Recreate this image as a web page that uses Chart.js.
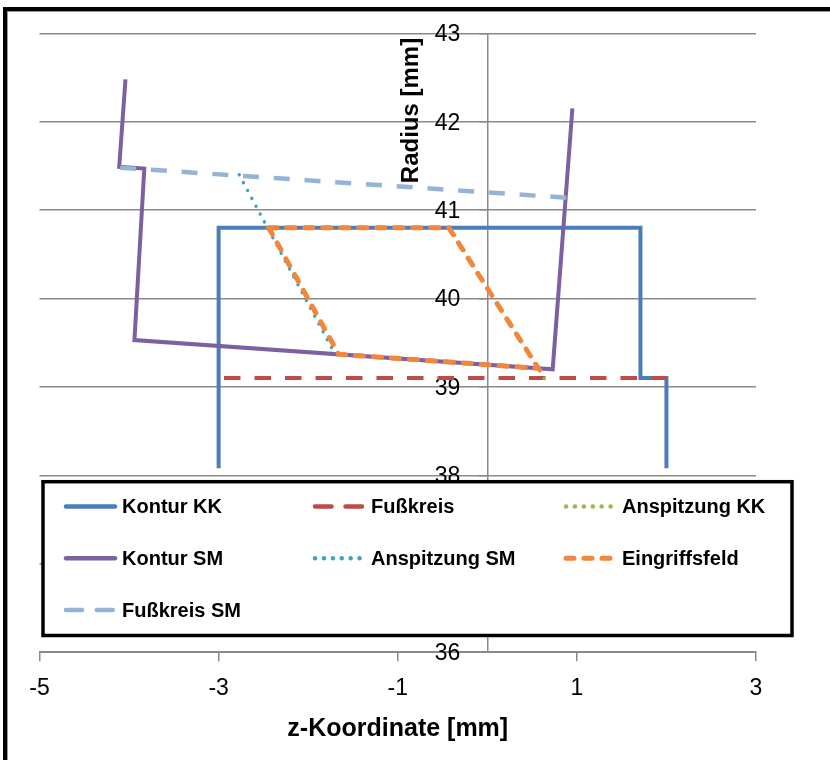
<!DOCTYPE html>
<html>
<head>
<meta charset="utf-8">
<script src="https://cdn.jsdelivr.net/npm/chart.js@4.4.1/dist/chart.umd.min.js"></script>
<style>
  html, body { margin: 0; padding: 0; background: #fff; overflow: hidden; }
  #wrap { position: relative; width: 830px; height: 760px; overflow: hidden; }
  #frame { position: absolute; left: 3px; top: 7px; width: 900px; height: 800px;
           border: 4px solid #000; box-shadow: inset 1px 1px 0 #9a9a9a; }
  canvas { position: absolute; left: 0; top: 0; }
</style>
</head>
<body>
<div id="wrap">
  <div id="frame"></div>
  <canvas id="c" width="830" height="760"></canvas>
</div>
<script>
// ---- data ----
const seriesNames = ['Kontur KK', 'Fußkreis', 'Anspitzung KK', 'Kontur SM', 'Anspitzung SM', 'Eingriffsfeld', 'Fußkreis SM'];

const konturKK_x = [-3.0, -3.0, 1.71, 1.71, 2.0, 2.0];
const konturKK_y = [38.08, 40.8, 40.8, 39.1, 39.1, 38.08];

const fusskreis_x = [-2.94, 2.0];
const fusskreis_y = [39.1, 39.1];

const anspitzungKK_x = [-0.42, 0.64];
const anspitzungKK_y = [40.8, 39.09];

const konturSM_x = [-4.04, -4.11, -3.83, -3.94, 0.73, 0.95];
const konturSM_y = [42.48, 41.49, 41.47, 39.53, 39.2, 42.15];

const anspitzungSM_x = [-2.77, -1.70];
const anspitzungSM_y = [41.40, 39.37];

const eingriffsfeld_x = [-2.44, -0.43, 0.57, -1.66, -2.44];
const eingriffsfeld_y = [40.8, 40.8, 39.21, 39.37, 40.8];

const fusskreisSM_x = [-4.10, 0.89];
const fusskreisSM_y = [41.48, 41.14];

const xTicks = [-5, -3, -1, 1, 3];
const yTicks = [36, 37, 38, 39, 40, 41, 42, 43];

const xTitle = 'z-Koordinate [mm]';
const yTitle = 'Radius [mm]';

// ---- build ----
function pts(xs, ys) { return xs.map((x, i) => ({ x: x, y: ys[i] })); }

const styles = [
  { color: '#4A7EBB', width: 4, dash: [], cap: 'butt' },
  { color: '#BE4B48', width: 4, dash: [16.5, 14], cap: 'butt' },
  { color: '#98B954', width: 3.4, dash: [0.1, 8.8], cap: 'round' },
  { color: '#7D60A0', width: 4, dash: [], cap: 'butt' },
  { color: '#3FA3C0', width: 3.4, dash: [0.1, 8.8], cap: 'round' },
  { color: '#F0873C', width: 5, dash: [8, 10], cap: 'round' },
  { color: '#95B3D7', width: 4.5, dash: [16, 14.8], cap: 'butt' }
];
const xs = [konturKK_x, fusskreis_x, anspitzungKK_x, konturSM_x, anspitzungSM_x, eingriffsfeld_x, fusskreisSM_x];
const ys = [konturKK_y, fusskreis_y, anspitzungKK_y, konturSM_y, anspitzungSM_y, eingriffsfeld_y, fusskreisSM_y];

const datasets = seriesNames.map((name, i) => ({
  label: name,
  data: pts(xs[i], ys[i]),
  showLine: true,
  borderColor: styles[i].color,
  backgroundColor: styles[i].color,
  borderWidth: styles[i].width,
  borderDash: styles[i].dash,
  borderCapStyle: styles[i].cap,
  borderJoinStyle: 'miter',
  pointRadius: 0,
  pointHoverRadius: 0,
  tension: 0,
  fill: false,
  order: seriesNames.length - i
}));

const FONT = '"Liberation Sans", Arial, sans-serif';

const overlayPlugin = {
  id: 'overlay',
  beforeDraw(chart) {
    // move y tick labels left of the crossing axis (tick + padding)
    const s = chart.scales.y;
    const items = s.getLabelItems(chart.chartArea);
    if (!items._shifted) {
      items.forEach(it => { it.options.translation[0] -= 27; it.options.translation[1] += 1.5; });
      items._shifted = true;
    }
  },
  afterDraw(chart) {
    const ctx = chart.ctx;
    // y-axis title (reads bottom to top, placed near the top)
    ctx.save();
    ctx.translate(411, 110.5);
    ctx.rotate(-Math.PI / 2);
    ctx.font = 'bold 24px ' + FONT;
    ctx.fillStyle = '#000';
    ctx.textAlign = 'center';
    ctx.textBaseline = 'middle';
    ctx.fillText(yTitle, 0, 0);
    ctx.restore();

    // legend box over the plot
    const bx = 43, by = 481.7, bw = 749, bh = 153.8;
    ctx.save();
    ctx.fillStyle = '#fff';
    ctx.fillRect(bx, by, bw, bh);
    ctx.lineWidth = 3.5;
    ctx.strokeStyle = '#000';
    ctx.strokeRect(bx, by, bw, bh);
    const colX = [64, 313, 564];
    const rowY = [506.5, 558.3, 610];
    const sampleW = 53;
    chart.data.datasets.forEach((ds, i) => {
      const cx = colX[i % 3];
      const cy = rowY[Math.floor(i / 3)];
      ctx.save();
      ctx.strokeStyle = ds.borderColor;
      ctx.lineWidth = Math.max(ds.borderWidth, 4.5);
      ctx.setLineDash(ds.borderDash || []);
      ctx.lineCap = 'round';
      ctx.beginPath();
      ctx.moveTo(cx + 2, cy);
      ctx.lineTo(cx + sampleW - 2, cy);
      ctx.stroke();
      ctx.restore();
      ctx.font = 'bold 20px ' + FONT;
      ctx.fillStyle = '#000';
      ctx.textAlign = 'left';
      ctx.textBaseline = 'middle';
      ctx.fillText(ds.label, cx + 58, cy + 1);
    });
    ctx.restore();
  }
};

new Chart(document.getElementById('c'), {
  type: 'scatter',
  data: { datasets: datasets },
  options: {
    responsive: false,
    animation: false,
    events: [],
    layout: { padding: { left: 39.5, right: 74, top: 33.3, bottom: 19.1 } },
    plugins: { legend: { display: false }, tooltip: { enabled: false } },
    scales: {
      x: {
        type: 'linear',
        position: 'bottom',
        min: -5, max: 3,
        afterBuildTicks: (s) => { s.ticks = xTicks.map(v => ({ value: v })); },
        grid: { drawOnChartArea: false, drawTicks: true, tickLength: 9, color: '#8a8a8a', lineWidth: 1.5 },
        border: { display: true, color: '#8a8a8a', width: 2 },
        ticks: { font: { family: FONT, size: 23, lineHeight: 1.0 }, color: '#000', padding: 16.5, maxRotation: 0 },
        title: { display: true, text: xTitle, font: { family: FONT, size: 25, weight: 'bold', lineHeight: 0.95 }, color: '#000', padding: { top: 0, bottom: 0 } }
      },
      y: {
        type: 'linear',
        position: { x: 0 },
        min: 36, max: 43,
        afterBuildTicks: (s) => { s.ticks = yTicks.map(v => ({ value: v })); },
        grid: { drawOnChartArea: true, drawTicks: true, tickLength: 8, color: '#8a8a8a', lineWidth: 1.5 },
        border: { display: true, color: '#8a8a8a', width: 1.5 },
        ticks: { font: { family: FONT, size: 23 }, color: '#000', padding: 19 },
        title: { display: false }
      }
    }
  },
  plugins: [overlayPlugin]
});
</script>
</body>
</html>
